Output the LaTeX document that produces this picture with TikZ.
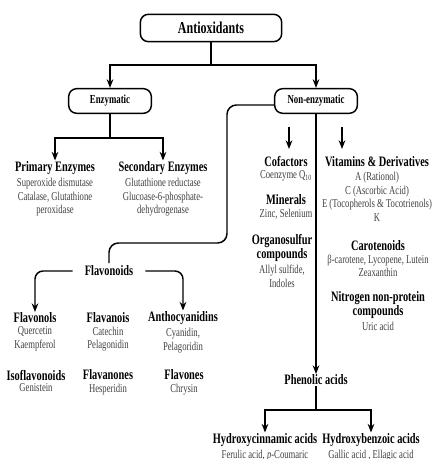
\documentclass[tikz,border=0pt]{standalone}
\usepackage{fontspec}
\setmainfont{Liberation Serif}[FakeStretch=0.72]
\usetikzlibrary{arrows.meta,positioning}

\begin{document}
\begin{tikzpicture}[x=0.75pt, y=-0.75pt,
            rootbox/.style={draw, line width=1.1pt, rounded corners=6pt,
                        minimum width=106pt, minimum height=20.5pt,
                        font=\bfseries\fontsize{12.5}{14}\selectfont},
            kindbox/.style={draw, line width=1.1pt, rounded corners=6pt,
                        minimum width=62pt, minimum height=18.5pt,
                        font=\bfseries\fontsize{9.2}{10}\selectfont},
            ttl/.style={font=\bfseries\fontsize{10.8}{10.5}\selectfont,
                        align=center, inner sep=0.5pt},
            info/.style={font=\fontsize{9}{10.2}\selectfont,
                        align=center, text=black!75, inner sep=0.5pt},
            link/.style={line width=1.1pt},
            arr/.style={-{Stealth[length=6.5pt,width=5pt]}, line width=1.1pt}
          ]
            \useasboundingbox (0,0) rectangle (433,459);
            \clip (0,0) rectangle (433,459);
            \node[rootbox] (anti)   at (211,28)  {Antioxidants};
            \node[kindbox] (enz)    at (110,101) {Enzymatic};
            \node[kindbox] (nonenz) at (316,101) {Non-enzymatic};
            % enzymatic side
            \node[ttl]  (prim)   at (55,168)  {Primary Enzymes};
            \node[info] (primtx) [below=1.5pt of prim] {Superoxide dismutase\\Catalase, Glutathione\\peroxidase};
            \node[ttl]  (sec)    at (163,168) {Secondary Enzymes};
            \node[info] (sectx)  [below=1.5pt of sec]  {Glutathione reductase\\Glucoase-6-phosphate-\\dehydrogenase};
            % non-enzymatic side
            \node[ttl]  (cof)    at (286,162) {Cofactors};
            \node[info] (coftx)  [below=1.5pt of cof]  {Coenzyme Q\textsubscript{10}};
            \node[ttl]  (minr)   at (286,200) {Minerals};
            \node[info] (minrtx) [below=1.5pt of minr] {Zinc, Selenium};
            \node[ttl]  (org)    at (282,248) {Organosulfur\\compounds};
            \node[info] (orgtx)  [below=1.5pt of org]  {Allyl sulfide,\\Indoles};
            \node[ttl]  (vit)    at (377,162) {Vitamins \& Derivatives};
            \node[info] (vittx)  [below=2.5pt of vit]  {A (Rationol)\\C (Ascorbic Acid)\\E (Tocopherols \& Tocotrienols)\\K};
            \node[ttl]  (car)    at (378,246) {Carotenoids};
            \node[info] (cartx)  [below=1.5pt of car]  {β-carotene, Lycopene, Lutein\\Zeaxanthin};
            \node[ttl]  (nit)    at (378,305) {Nitrogen non-protein\\compounds};
            \node[info] (nittx)  [below=1.5pt of nit]  {Uric acid};
            % flavonoids
            \node[ttl, inner xsep=9pt, inner ysep=2pt] (flav) at (109,271) {Flavonoids};
            \node[ttl]  (flvl)   at (35,318)  {Flavonols};
            \node[info] (flvltx) [below=1.5pt of flvl] {Quercetin\\Kaempferol};
            \node[ttl]  (flvn)   at (108,318) {Flavanois};
            \node[info] (flvntx) [below=1.5pt of flvn] {Catechin\\Pelagonidin};
            \node[ttl]  (anth)   at (183,318) {Anthocyanidins};
            \node[info] (anthtx) [below=1.5pt of anth] {Cyanidin,\\Pelagoridin};
            \node[ttl]  (iso)    at (36,375)  {Isoflavonoids};
            \node[info] (isotx)  [below=1.5pt of iso]  {Genistein};
            \node[ttl]  (flnn)   at (108,375) {Flavanones};
            \node[info] (flnntx) [below=1.5pt of flnn] {Hesperidin};
            \node[ttl]  (flvs)   at (184,375) {Flavones};
            \node[info] (flvstx) [below=1.5pt of flvs] {Chrysin};
            % phenolic acids
            \node[ttl]  (phen)   at (316,380) {Phenolic acids};
            \node[ttl]  (hcin)   at (265,440) {Hydroxycinnamic acids};
            \node[info] (hcintx) [below=1pt of hcin] {Ferulic acid, \textit{p}-Coumaric};
            \node[ttl]  (hben)   at (371,440) {Hydroxybenzoic acids};
            \node[info] (hbentx) [below=1pt of hben] {Gallic acid , Ellagic acid};

            \coordinate (antisplit) at (211,65);
            \draw[link] (anti) -- (antisplit);
            \draw[arr] (antisplit) -| (enz);
            \draw[arr] (antisplit) -| (nonenz);
            \coordinate (enzsplit) at (110,138);
            \draw[link] (enz) -- (enzsplit);
            \draw[arr] (enzsplit) -| (prim);
            \draw[arr] (enzsplit) -| (sec);
            \coordinate (cofin)  at (289,127);
            \coordinate (cofend) at (289,149);
            \coordinate (vitin)  at (342,127);
            \coordinate (vitend) at (342,149);
            \draw[arr] (cofin) -- (cofend);
            \draw[arr] (vitin) -- (vitend);
            \draw[link, rounded corners=7pt] ([yshift=-3pt]nonenz.west) -| (227,243) -| (flav);
            \draw[arr, rounded corners=6pt] (flav) -| (flvl);
            \draw[arr, rounded corners=6pt] (flav) -| (anth);
            \draw[arr] (nonenz) -- (phen);
            \coordinate (phensplit) at (316,410);
            \draw[link] (phen) -- (phensplit);
            \draw[arr] (phensplit) -| (hcin);
            \draw[arr] (phensplit) -| (hben);
          \end{tikzpicture}
\end{document}
